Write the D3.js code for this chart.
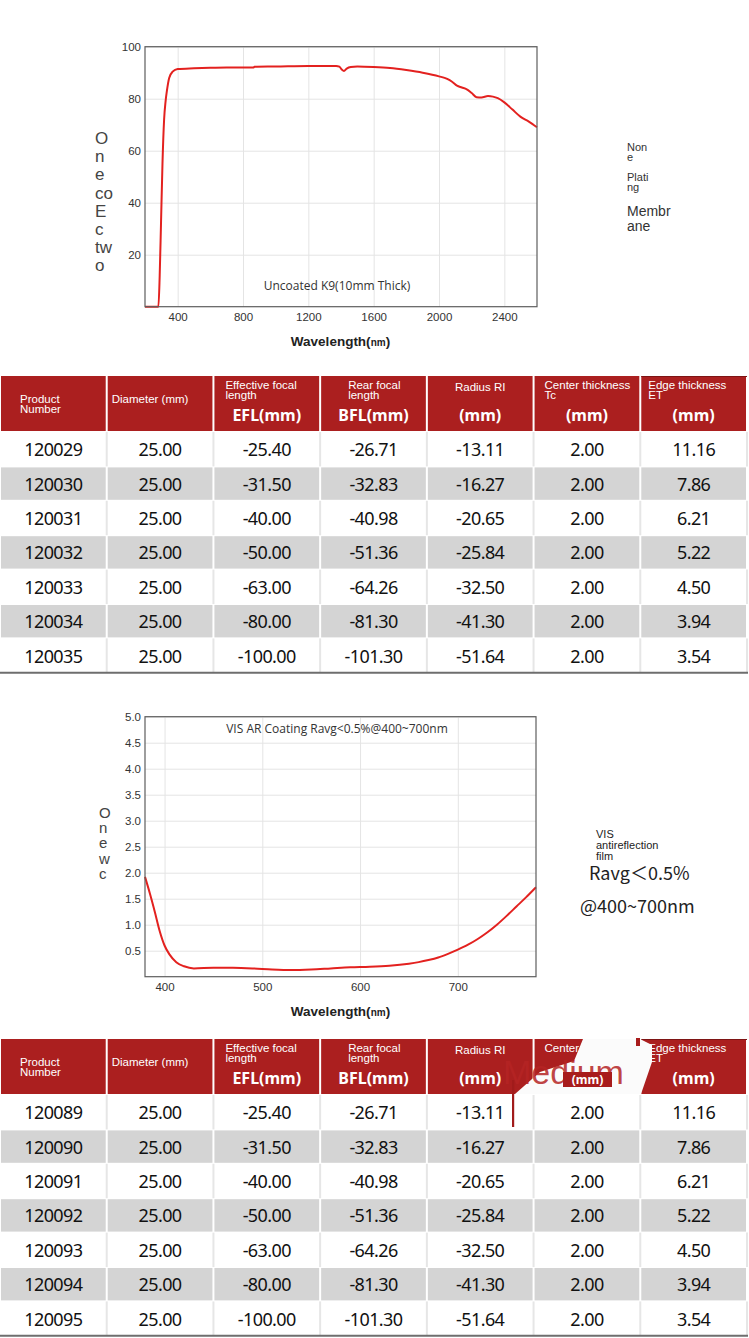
<!DOCTYPE html>
<html>
<head>
<meta charset="utf-8">
<script src="https://cdn.jsdelivr.net/npm/d3@7"></script>
<style>
  body { margin: 0; background: #fff; }
  svg { display: block; }
</style>
</head>
<body>
<svg width="749" height="1338"></svg>
<script>
// chart 1: uncoated K9 transmission
const wavelength1 = [200, 282, 290, 298, 307, 317, 326, 334, 348, 369, 400, 500, 600, 700, 865, 870, 1000, 1200, 1370, 1390, 1405, 1418, 1435, 1460, 1500, 1600, 1700, 1800, 1900, 2000, 2050, 2080, 2110, 2140, 2170, 2200, 2230, 2260, 2300, 2330, 2360, 2400, 2450, 2500, 2550, 2600];
const transmission1 = [0, 0, 12, 32, 55, 72, 79, 83, 88, 90.4, 91.4, 91.7, 91.9, 92, 92, 92.3, 92.4, 92.6, 92.6, 92.3, 91.2, 90.7, 91.6, 92.2, 92.4, 92.2, 91.8, 91, 90, 88.6, 87.6, 86.5, 85, 84.3, 83.6, 82.2, 80.6, 80.5, 81, 80.8, 80.2, 78.6, 75.8, 73, 71.2, 69];
const xTicks1 = [400, 800, 1200, 1600, 2000, 2400];
const yTicks1 = [20, 40, 60, 80, 100];

// chart 2: VIS AR coating reflectance
const wavelength2 = [380, 385, 390, 395, 400, 405, 412, 420, 430, 450, 470, 490, 510, 530, 550, 570, 590, 610, 630, 650, 660, 670, 680, 690, 700, 710, 720, 730, 740, 750, 760, 770, 780];
const reflectance2 = [1.92, 1.6, 1.25, 0.88, 0.6, 0.43, 0.28, 0.2, 0.16, 0.17, 0.17, 0.16, 0.14, 0.13, 0.14, 0.16, 0.18, 0.19, 0.21, 0.25, 0.28, 0.32, 0.37, 0.44, 0.52, 0.61, 0.72, 0.85, 1.0, 1.17, 1.35, 1.53, 1.72];
const xTicks2 = [400, 500, 600, 700];
const yTicks2 = [0.5, 1.0, 1.5, 2.0, 2.5, 3.0, 3.5, 4.0, 4.5, 5.0];

// tables
const headerSmall1 = [["Product", "Number"], ["Diameter (mm)"], ["Effective focal", "length"], ["Rear focal", "length"], ["Radius RI"], ["Center thickness", "Tc"], ["Edge thickness", "ET"]];
const headerSmall2 = [["Product", "Number"], ["Diameter (mm)"], ["Effective focal", "length"], ["Rear focal", "length"], ["Radius RI"], ["Center"], ["Edge thickness", "ET"]];
const headerUnit1 = ["", "", "EFL(mm)", "BFL(mm)", "(mm)", "(mm)", "(mm)"];
const headerUnit2 = ["", "", "EFL(mm)", "BFL(mm)", "(mm)", "", "(mm)"];
const productNumbers1 = ["120029", "120030", "120031", "120032", "120033", "120034", "120035"];
const productNumbers2 = ["120089", "120090", "120091", "120092", "120093", "120094", "120095"];
const diameter = ["25.00", "25.00", "25.00", "25.00", "25.00", "25.00", "25.00"];
const efl = ["-25.40", "-31.50", "-40.00", "-50.00", "-63.00", "-80.00", "-100.00"];
const bfl = ["-26.71", "-32.83", "-40.98", "-51.36", "-64.26", "-81.30", "-101.30"];
const radius = ["-13.11", "-16.27", "-20.65", "-25.84", "-32.50", "-41.30", "-51.64"];
const centerThickness = ["2.00", "2.00", "2.00", "2.00", "2.00", "2.00", "2.00"];
const edgeThickness = ["11.16", "7.86", "6.21", "5.22", "4.50", "3.94", "3.54"];

const yLabel1 = ["O", "n", "e", "co", "E", "c", "tw", "o"];
const yLabel2 = ["O", "n", "e", "w", "c"];
const note1 = ["Non", "e", "Plati", "ng", "Membr", "ane"];
const note2 = ["VIS", "antireflection", "film", "Ravg＜0.5%", "@400~700nm"];

const svg = d3.select("svg");
const RED = "#ab1f1f";

function drawChart(cfg) {
  const x = d3.scaleLinear().domain(cfg.xDomain).range([cfg.left, cfg.right]);
  const y = d3.scaleLinear().domain(cfg.yDomain).range([cfg.bottom, cfg.top]);
  const w = cfg.right - cfg.left;
  const h = cfg.bottom - cfg.top;
  const g = svg.append("g");

  g.append("g")
    .attr("class", "grid")
    .attr("transform", `translate(0,${cfg.bottom})`)
    .call(d3.axisBottom(x).tickValues(cfg.xTicks).tickSize(-h).tickFormat(""));
  g.append("g")
    .attr("class", "grid")
    .attr("transform", `translate(${cfg.left},0)`)
    .call(d3.axisLeft(y).tickValues(cfg.yTicks).tickSize(-w).tickFormat(""));
  g.selectAll(".grid .domain").remove();
  g.selectAll(".grid line").attr("stroke", "#e4e4e4");

  const line = d3
    .line()
    .x((d) => x(d[0]))
    .y((d) => y(d[1]))
    .curve(d3.curveMonotoneX);

  g.append("path")
    .datum(d3.zip(cfg.xs, cfg.ys))
    .attr("fill", "none")
    .attr("stroke", "#e3211f")
    .attr("stroke-width", 2)
    .attr("stroke-linejoin", "round")
    .attr("d", line);

  g.append("rect")
    .attr("x", cfg.left)
    .attr("y", cfg.top)
    .attr("width", w)
    .attr("height", h)
    .attr("fill", "none")
    .attr("stroke", "#5e5e5e")
    .attr("stroke-width", 1.2);

  const xAxis = g.append("g")
    .attr("transform", `translate(0,${cfg.bottom})`)
    .call(d3.axisBottom(x).tickValues(cfg.xTicks).tickSize(0).tickPadding(6).tickFormat(d3.format("d")));
  const yAxis = g.append("g")
    .attr("transform", `translate(${cfg.left},0)`)
    .call(d3.axisLeft(y).tickValues(cfg.yTicks).tickSize(0).tickPadding(4).tickFormat(cfg.yFormat));
  [xAxis, yAxis].forEach((a) => {
    a.select(".domain").remove();
    a.selectAll("text")
      .attr("font-family", "Liberation Sans, Arial, sans-serif")
      .attr("font-size", 11.5)
      .attr("fill", "#333");
  });

  const title = g.append("text")
    .attr("x", 340.5)
    .attr("y", cfg.bottom + 39)
    .attr("text-anchor", "middle")
    .attr("font-family", "Liberation Sans, Arial, sans-serif")
    .attr("font-weight", "bold")
    .attr("fill", "#222");
  title.append("tspan").attr("font-size", 13.5).text("Wavelength(");
  title.append("tspan").attr("font-size", 10).text("nm");
  title.append("tspan").attr("font-size", 13.5).text(")");

  g.append("text")
    .attr("x", 337)
    .attr("y", cfg.noteY)
    .attr("text-anchor", "middle")
    .attr("font-family", "Open Sans, sans-serif")
    .attr("font-size", 12)
    .attr("fill", "#333")
    .text(cfg.note);

  g.selectAll(".ylab")
    .data(cfg.yLabel)
    .enter()
    .append("text")
    .attr("x", cfg.yLabelX)
    .attr("y", (d, i) => cfg.yLabelY + i * cfg.yLabelStep)
    .attr("font-family", "Liberation Sans, Arial, sans-serif")
    .attr("font-size", cfg.yLabelSize)
    .attr("fill", "#444")
    .text((d) => d);
}

drawChart({
  left: 145, right: 537, top: 46.7, bottom: 306.7,
  xDomain: [200, 2600], yDomain: [0, 100],
  xTicks: xTicks1, yTicks: yTicks1, yFormat: d3.format("d"),
  xs: wavelength1, ys: transmission1,
  note: "Uncoated K9(10mm Thick)", noteY: 290,
  yLabel: yLabel1, yLabelX: 95, yLabelY: 144, yLabelStep: 18.2, yLabelSize: 17
});

drawChart({
  left: 145, right: 536, top: 716.7, bottom: 976.7,
  xDomain: [380, 780], yDomain: [0, 5],
  xTicks: xTicks2, yTicks: yTicks2, yFormat: d3.format(".1f"),
  xs: wavelength2, ys: reflectance2,
  note: "VIS AR Coating Ravg<0.5%@400~700nm", noteY: 733,
  yLabel: yLabel2, yLabelX: 99, yLabelY: 818, yLabelStep: 15.2, yLabelSize: 15
});

// side notes
const note1Layout = [[627, 151, 11], [627, 161, 11], [627, 181, 11], [627, 191, 11], [627, 216, 14], [627, 231, 14]];
svg.selectAll(".note1")
  .data(note1)
  .enter()
  .append("text")
  .attr("x", (d, i) => note1Layout[i][0])
  .attr("y", (d, i) => note1Layout[i][1])
  .attr("font-size", (d, i) => note1Layout[i][2])
  .attr("font-family", "Liberation Sans, Arial, sans-serif")
  .attr("fill", "#333")
  .text((d) => d);

const note2Layout = [[596, 838, 11], [596, 849, 11], [596, 860, 11], [589, 880, 18], [580, 913, 18]];
svg.selectAll(".note2")
  .data(note2)
  .enter()
  .append("text")
  .attr("x", (d, i) => note2Layout[i][0])
  .attr("y", (d, i) => note2Layout[i][1])
  .attr("font-size", (d, i) => note2Layout[i][2])
  .attr("font-family", (d, i) => (i < 3 ? "Liberation Sans, Arial, sans-serif" : "Noto Sans CJK SC, Noto Sans, sans-serif"))
  .attr("fill", "#222")
  .text((d) => d);

// header text placement: [x offset from column start or "mid", first baseline, line step]
const headerLayout = [[20, 27, 10], [5, 27, 10], [12, 13, 10], [28, 13, 10], ["mid", 15, 10], [11, 13, 10], [8, 13, 10]];

function drawTable(top, products, headerSmall, headerUnit) {
  const columns = [products, diameter, efl, bfl, radius, centerThickness, edgeThickness];
  const headerH = 55;
  const rowH = 34.4;
  const x = d3.scaleBand().domain(d3.range(7)).range([0, 747]);
  const y = d3.scaleBand().domain(d3.range(7)).range([top + headerH + 1, top + headerH + 1 + 7 * rowH]);
  const g = svg.append("g");

  g.selectAll(".hcell")
    .data(d3.range(7))
    .enter()
    .append("rect")
    .attr("x", (c) => x(c) + 1)
    .attr("y", top)
    .attr("width", x.bandwidth() - 2)
    .attr("height", headerH)
    .attr("fill", RED);

  g.append("line")
    .attr("x1", x(6) + 1).attr("x2", 747)
    .attr("y1", top + 0.5).attr("y2", top + 0.5)
    .attr("stroke", "#7e1414");

  headerSmall.forEach((lines, c) => {
    const [dx, by, step] = headerLayout[c];
    const t = g.append("text")
      .attr("font-family", "Liberation Sans, Arial, sans-serif")
      .attr("font-size", 11.5)
      .attr("fill", "#fff")
      .attr("text-anchor", dx === "mid" ? "middle" : "start");
    lines.forEach((s, i) => {
      t.append("tspan")
        .attr("x", dx === "mid" ? x(c) + x.bandwidth() / 2 : x(c) + dx)
        .attr("y", top + by + i * step)
        .text(s);
    });
  });

  g.selectAll(".unit")
    .data(headerUnit)
    .enter()
    .append("text")
    .attr("x", (d, c) => x(c) + x.bandwidth() / 2)
    .attr("y", top + 45)
    .attr("text-anchor", "middle")
    .attr("font-family", "Noto Sans, sans-serif")
    .attr("font-weight", "bold")
    .attr("font-size", 16)
    .attr("fill", "#fff")
    .text((d) => d);

  const rows = g.selectAll(".row")
    .data(d3.range(7))
    .enter()
    .append("g")
    .attr("transform", (r) => `translate(0,${y(r)})`);

  rows.each(function (r) {
    const row = d3.select(this);
    const gray = r % 2 === 1;
    row.selectAll("rect")
      .data(d3.range(7))
      .enter()
      .append("rect")
      .attr("x", (c) => x(c) + 1)
      .attr("y", 1)
      .attr("width", x.bandwidth() - 2)
      .attr("height", rowH - 2)
      .attr("fill", gray ? "#d4d4d4" : "#fff");
    if (!gray) {
      row.selectAll("line")
        .data(d3.range(1, 8))
        .enter()
        .append("line")
        .attr("x1", (c) => (c < 7 ? x(c) : 747))
        .attr("x2", (c) => (c < 7 ? x(c) : 747))
        .attr("y1", 0)
        .attr("y2", rowH)
        .attr("stroke", "#e6e6e6")
        .attr("stroke-width", 2);
    }
    row.selectAll("text")
      .data(columns.map((col) => col[r]))
      .enter()
      .append("text")
      .attr("x", (d, c) => x(c) + x.bandwidth() / 2)
      .attr("y", rowH / 2 + 7)
      .attr("text-anchor", "middle")
      .attr("font-family", "Noto Sans, sans-serif")
      .attr("font-size", 18)
      .attr("letter-spacing", -0.6)
      .attr("fill", "#111")
      .text((d) => d);
  });

  g.append("line")
    .attr("x1", 0).attr("x2", 748)
    .attr("y1", top + headerH + 1 + 7 * rowH)
    .attr("y2", top + headerH + 1 + 7 * rowH)
    .attr("stroke", "#6e6e6e")
    .attr("stroke-width", 2);

  return { g, x, y, top };
}

drawTable(376, productNumbers1, headerSmall1, headerUnit1);
const t2 = drawTable(1039, productNumbers2, headerSmall2, headerUnit2);

// overlay artefact on second table's header ("Medium" watermark)
const ov = t2.g.append("g");
ov.append("path")
  .attr("d", "M583,1039 L640,1039 L652,1045 L652,1062 L641,1094 L515,1094 L540,1072 L574,1061 Z")
  .attr("fill", "#fbfbfb");
ov.append("text")
  .attr("x", 503)
  .attr("y", 1084)
  .attr("font-family", "Liberation Sans, Arial, sans-serif")
  .attr("font-size", 34)
  .attr("fill", "#b52424")
  .attr("fill-opacity", 0.85)
  .text("Medium");
ov.append("rect")
  .attr("x", 563).attr("y", 1072).attr("width", 49).attr("height", 15)
  .attr("fill", "#a81c1c");
ov.append("text")
  .attr("x", 587.5).attr("y", 1084)
  .attr("text-anchor", "middle")
  .attr("font-family", "Noto Sans, sans-serif")
  .attr("font-weight", "bold")
  .attr("font-size", 12)
  .attr("fill", "#fff")
  .text("(mm)");
ov.append("rect")
  .attr("x", 636).attr("y", 1038).attr("width", 4).attr("height", 8)
  .attr("fill", "#a81c1c");
ov.append("rect")
  .attr("x", 512).attr("y", 1080).attr("width", 2.2).attr("height", 47)
  .attr("fill", "#a11b1b");
</script>
</body>
</html>
